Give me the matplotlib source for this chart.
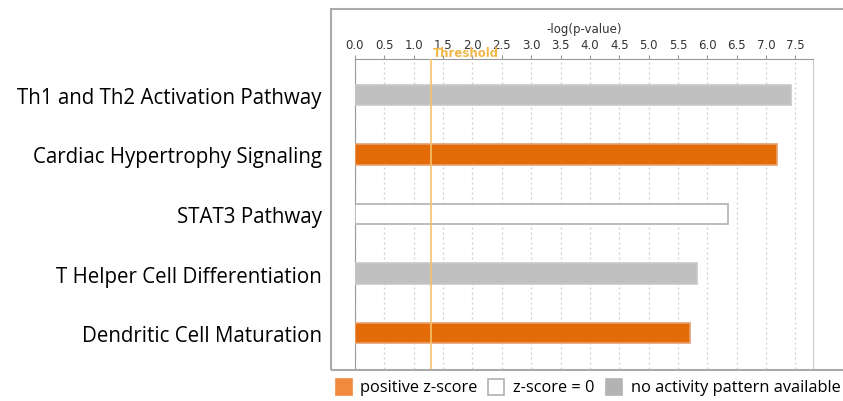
import numpy as np
import matplotlib.pyplot as plt
from matplotlib.patches import Rectangle

pathways = ["Th1 and Th2 Activation Pathway", "Cardiac Hypertrophy Signaling",
            "STAT3 Pathway", "T Helper Cell Differentiation", "Dendritic Cell Maturation"]
neg_log_p = [7.43, 7.19, 6.36, 5.82, 5.70]
zscore_cat = ["none", "positive", "zero", "none", "positive"]
threshold = 1.3
ticks = np.arange(0, 7.51, 0.5)

colors = {"positive": "#e36c09", "zero": "white", "none": "#c0c0c0"}
edges = {"positive": "#e8a070", "zero": "#b0b0b0", "none": "#c8c8c8"}

W, H = 843, 402
fig = plt.figure(figsize=(W / 100, H / 100), dpi=100)
ax = fig.add_axes([355 / W, 1 - 370 / H, (813 - 355) / W, (370 - 60) / H])

y = np.arange(len(pathways))
for yi, v, c in zip(y, neg_log_p, zscore_cat):
    ax.barh(yi, v, height=0.34, color=colors[c], edgecolor=edges[c], linewidth=1.2, zorder=3)

ax.set_xlim(0, 7.8)
ax.set_ylim(len(pathways) - 0.4, -0.6)
ax.set_xticks(ticks)
ax.set_xticklabels([f"{t:.1f}" for t in ticks], fontsize=8.5, color="#333333", family="DejaVu Sans")
ax.xaxis.tick_top()
ax.xaxis.set_label_position("top")
ax.set_xlabel("-log(p-value)", fontsize=8.5, color="#333333", labelpad=4)
ax.tick_params(axis="x", length=3, color="#999999", pad=3)
ax.set_yticks(y)
ax.set_yticklabels(pathways, fontsize=14.8, family="Open Sans")
ax.tick_params(axis="y", length=0, pad=24)
ax.grid(axis="x", linestyle=(0, (1.5, 2.5)), color="#cccccc", linewidth=0.9, zorder=0)
for s in ["left", "top"]:
    ax.spines[s].set_color("#999999")
ax.spines["right"].set_color("#cccccc")
ax.spines["bottom"].set_visible(False)

ax.axvline(threshold, color="#f5c26b", linewidth=1.2, zorder=4)
ax.text(threshold + 0.03, -0.6, "Threshold", color="#f0b848", fontsize=8.5,
        fontweight="bold", va="bottom", ha="left", zorder=5)

# outer frame
fig.add_artist(Rectangle((331 / W, 1 - 371 / H), 1.0, 361 / H, transform=fig.transFigure,
                         fill=False, edgecolor="#aaaaaa", linewidth=1.5))

# legend
leg = [("#f08a3c", "#f08a3c", 336, "positive z-score", 360),
       ("white", "#b0b0b0", 488, "z-score = 0", 513),
       ("#b3b3b3", "#b3b3b3", 606, "no activity pattern available", 631)]
for fc, ec, x0, txt, tx in leg:
    fig.add_artist(Rectangle((x0 / W, 1 - 396 / H), 16 / W, 16 / H, transform=fig.transFigure,
                             facecolor=fc, edgecolor=ec, linewidth=1.2))
    fig.text(tx / W, 1 - 388 / H, txt, fontsize=11.8, family="Open Sans", va="center", ha="left")

fig.savefig("out.png", dpi=100)
